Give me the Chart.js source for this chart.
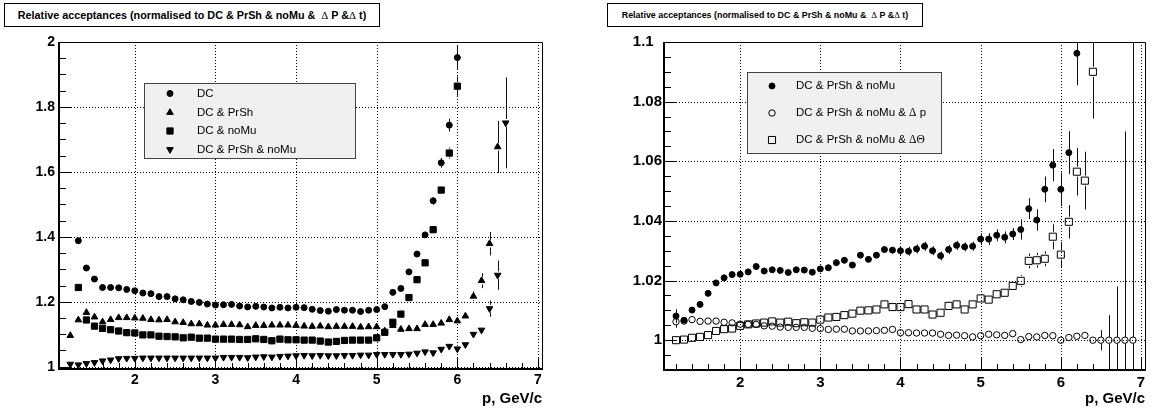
<!DOCTYPE html>
<html>
<head>
<meta charset="utf-8">
<script src="https://cdn.jsdelivr.net/npm/chart.js@4.4.0/dist/chart.umd.min.js"></script>
<style>
  html, body { margin: 0; padding: 0; background: #fff; }
  #wrap { position: relative; width: 1151px; height: 412px; overflow: hidden; }
  canvas { position: absolute; top: 0; }
  .title { position: absolute; top: 3px; height: 22px; border: 1px solid #000; background: #fff;
    font-family: "Liberation Sans", Arial, sans-serif; font-weight: bold; text-align: center; line-height: 22px;
    color: #000; white-space: nowrap; }
  .title .g { font-family: "Liberation Serif", serif; font-weight: normal; }
</style>
</head>
<body>
<div id="wrap">
  <canvas id="leftChart" width="575" height="412" style="left:0"></canvas>
  <canvas id="rightChart" width="576" height="412" style="left:575px"></canvas>
  <div class="title" style="left:4px;width:374px;font-size:10.8px">Relative acceptances (normalised to DC &amp; PrSh &amp; noMu &amp; &nbsp;<span class="g">Δ</span> P &amp;<span class="g">Δ</span> t)</div>
  <div class="title" style="left:607px;width:314px;font-size:8.9px">Relative acceptances (normalised to DC &amp; PrSh &amp; noMu &amp; &nbsp;<span class="g">Δ</span> P &amp;<span class="g">Δ</span> t)</div>
</div>
<script>
// momentum bin centres, GeV/c
const pBins = [1.2, 1.3, 1.4, 1.5, 1.6, 1.7, 1.8, 1.9,
  2.0, 2.1, 2.2, 2.3, 2.4, 2.5, 2.6, 2.7, 2.8, 2.9,
  3.0, 3.1, 3.2, 3.3, 3.4, 3.5, 3.6, 3.7, 3.8, 3.9,
  4.0, 4.1, 4.2, 4.3, 4.4, 4.5, 4.6, 4.7, 4.8, 4.9,
  5.0, 5.1, 5.2, 5.3, 5.4, 5.5, 5.6, 5.7, 5.8, 5.9,
  6.0, 6.1, 6.2, 6.3, 6.4, 6.5, 6.6, 6.7, 6.8, 6.9, 7.0];

const xTickValues = [2, 3, 4, 5, 6, 7];
const xTickLabels = ['2', '3', '4', '5', '6', '7'];
const leftYTickValues = [1, 1.2, 1.4, 1.6, 1.8, 2];
const leftYTickLabels = ['1', '1.2', '1.4', '1.6', '1.8', '2'];
const rightYTickValues = [1, 1.02, 1.04, 1.06, 1.08, 1.1];
const rightYTickLabels = ['1', '1.02', '1.04', '1.06', '1.08', '1.1\u2007'];

const leftLabels = ['DC', 'DC & PrSh', 'DC & noMu', 'DC & PrSh & noMu'];
const rightLabels = ['DC & PrSh & noMu', 'DC & PrSh & noMu & Δ p', 'DC & PrSh & noMu & ΔΘ'];

// ---- left panel ----
const dcValues = [null,
  1.388, 1.304, 1.270, 1.244, 1.244, 1.243, 1.238,
  1.234, 1.227, 1.225, 1.216, 1.216, 1.209, 1.206, 1.201, 1.198, 1.193,
  1.190, 1.191, 1.192, 1.187, 1.184, 1.186, 1.184, 1.181, 1.183, 1.181,
  1.183, 1.182, 1.177, 1.173, 1.171, 1.176, 1.174, 1.174, 1.170, 1.174,
  1.176, 1.185, 1.229, 1.241, 1.292, 1.347, 1.406, 1.511, 1.628, 1.744,
  1.952];
const dcErrors = [null,
  0.003, 0.003, 0.003, 0.003, 0.003, 0.003, 0.003,
  0.003, 0.003, 0.003, 0.003, 0.003, 0.003, 0.003, 0.003, 0.003, 0.003,
  0.003, 0.003, 0.003, 0.003, 0.003, 0.003, 0.003, 0.003, 0.003, 0.003,
  0.003, 0.003, 0.003, 0.003, 0.003, 0.003, 0.003, 0.003, 0.003, 0.003,
  0.003, 0.003, 0.004, 0.004, 0.005, 0.006, 0.008, 0.012, 0.015, 0.020,
  0.037];

const prShValues = [1.096, 1.144, 1.167, 1.153, 1.138, 1.145, 1.151, 1.151,
  1.150, 1.149, 1.145, 1.144, 1.145, 1.138, 1.136, 1.132, 1.132, 1.128,
  1.128, 1.130, 1.130, 1.129, 1.123, 1.127, 1.127, 1.128, 1.128, 1.128,
  1.127, 1.125, 1.124, 1.125, 1.123, 1.124, 1.124, 1.124, 1.122, 1.123,
  1.123, 1.110, 1.127, 1.115, 1.117, 1.117, 1.130, 1.130, 1.134, 1.145,
  1.141, 1.156, 1.217, 1.265, 1.379, 1.677];
const prShErrors = [0.003, 0.003, 0.003, 0.003, 0.003, 0.003, 0.003, 0.003,
  0.003, 0.003, 0.003, 0.003, 0.003, 0.003, 0.003, 0.003, 0.003, 0.003,
  0.003, 0.003, 0.003, 0.003, 0.003, 0.003, 0.003, 0.003, 0.003, 0.003,
  0.003, 0.003, 0.003, 0.003, 0.003, 0.003, 0.003, 0.003, 0.003, 0.003,
  0.003, 0.003, 0.003, 0.003, 0.004, 0.004, 0.004, 0.004, 0.004, 0.005,
  0.005, 0.007, 0.015, 0.023, 0.036, 0.080];

const noMuValues = [null,
  1.244, 1.144, 1.125, 1.118, 1.114, 1.110, 1.105,
  1.104, 1.098, 1.098, 1.094, 1.093, 1.092, 1.089, 1.091, 1.088, 1.088,
  1.085, 1.085, 1.085, 1.084, 1.084, 1.086, 1.084, 1.080, 1.085, 1.083,
  1.083, 1.082, 1.082, 1.079, 1.076, 1.078, 1.081, 1.082, 1.082, 1.082,
  1.089, 1.106, 1.137, 1.162, 1.213, 1.268, 1.320, 1.422, 1.544, 1.658,
  1.864];
const noMuErrors = [null,
  0.003, 0.003, 0.003, 0.003, 0.003, 0.003, 0.003,
  0.003, 0.003, 0.003, 0.003, 0.003, 0.003, 0.003, 0.003, 0.003, 0.003,
  0.003, 0.003, 0.003, 0.003, 0.003, 0.003, 0.003, 0.003, 0.003, 0.003,
  0.003, 0.003, 0.003, 0.003, 0.003, 0.003, 0.003, 0.003, 0.003, 0.003,
  0.003, 0.003, 0.004, 0.004, 0.005, 0.006, 0.007, 0.010, 0.013, 0.017,
  0.030];

const allCutsValues = [1.008, 1.006, 1.010, 1.013, 1.018, 1.021, 1.025, 1.026,
  1.026, 1.027, 1.027, 1.027, 1.027, 1.027, 1.027, 1.027, 1.027, 1.027,
  1.027, 1.029, 1.029, 1.029, 1.028, 1.030, 1.031, 1.030, 1.032, 1.033,
  1.034, 1.035, 1.034, 1.035, 1.034, 1.034, 1.035, 1.035, 1.036, 1.036,
  1.038, 1.038, 1.038, 1.038, 1.039, 1.042, 1.046, 1.043, 1.054, 1.063,
  1.055, 1.068, 1.100, 1.113, 1.179, 1.282, 1.751];
const allCutsErrors = [0.002, 0.002, 0.002, 0.002, 0.002, 0.002, 0.002, 0.002,
  0.002, 0.002, 0.002, 0.002, 0.002, 0.002, 0.002, 0.002, 0.002, 0.002,
  0.002, 0.002, 0.002, 0.002, 0.002, 0.002, 0.002, 0.002, 0.002, 0.002,
  0.002, 0.002, 0.002, 0.002, 0.002, 0.002, 0.002, 0.002, 0.002, 0.002,
  0.003, 0.003, 0.003, 0.003, 0.003, 0.003, 0.003, 0.003, 0.003, 0.003,
  0.004, 0.005, 0.008, 0.010, 0.025, 0.045, 0.140];

// ---- right panel ----
const pidValues = [1.0081, 1.0067, 1.0101, 1.0120, 1.0157, 1.0192, 1.0209, 1.0220,
  1.0221, 1.0229, 1.0247, 1.0232, 1.0236, 1.0234, 1.0227, 1.0236, 1.0235, 1.0228,
  1.0239, 1.0243, 1.0260, 1.0268, 1.0252, 1.0285, 1.0271, 1.0285, 1.0304, 1.0302,
  1.0300, 1.0298, 1.0306, 1.0315, 1.0300, 1.0283, 1.0304, 1.0318, 1.0313, 1.0315,
  1.0339, 1.0339, 1.0352, 1.0345, 1.0356, 1.0371, 1.0441, 1.0403, 1.0506, 1.0587,
  1.0506, 1.0629, 1.0962];
const pidErrors = [0.0023, 0.0010, 0.0010, 0.0010, 0.0010, 0.0010, 0.0010, 0.0010,
  0.0010, 0.0010, 0.0010, 0.0010, 0.0010, 0.0010, 0.0010, 0.0010, 0.0010, 0.0010,
  0.0010, 0.0010, 0.0010, 0.0010, 0.0010, 0.0010, 0.0010, 0.0010, 0.0010, 0.0010,
  0.0015, 0.0015, 0.0015, 0.0015, 0.0015, 0.0015, 0.0015, 0.0015, 0.0015, 0.0015,
  0.0020, 0.0020, 0.0020, 0.0020, 0.0020, 0.0034, 0.0035, 0.0036, 0.0043, 0.0054,
  0.0056, 0.0072, 0.0107];

const dpValues = [1.0062, 1.0064, 1.0069, 1.0063, 1.0064, 1.0064, 1.0060, 1.0058,
  1.0054, 1.0053, 1.0053, 1.0048, 1.0047, 1.0044, 1.0043, 1.0043, 1.0043, 1.0040,
  1.0039, 1.0036, 1.0037, 1.0037, 1.0031, 1.0031, 1.0031, 1.0032, 1.0033, 1.0036,
  1.0025, 1.0025, 1.0024, 1.0024, 1.0024, 1.0020, 1.0016, 1.0017, 1.0015, 1.0011,
  1.0015, 1.0020, 1.0018, 1.0016, 1.0022, 1.0002, 1.0012, 1.0011, 1.0016, 1.0015,
  1.0000, 1.0009, 1.0013, 1.0016, 1.0000, 1.0000, 1.0000, 1.0000, 1.0000, 1.0000];
const dpErrors = [0.0020, 0.0008, 0.0008, 0.0008, 0.0008, 0.0008, 0.0008, 0.0008,
  0.0008, 0.0008, 0.0008, 0.0008, 0.0008, 0.0008, 0.0008, 0.0008, 0.0008, 0.0008,
  0.0008, 0.0008, 0.0008, 0.0008, 0.0008, 0.0008, 0.0008, 0.0008, 0.0008, 0.0008,
  0.0008, 0.0008, 0.0008, 0.0008, 0.0008, 0.0008, 0.0008, 0.0008, 0.0008, 0.0008,
  0.0008, 0.0008, 0.0008, 0.0008, 0.0008, 0.0008, 0.0008, 0.0008, 0.0008, 0.0008,
  0.0010, 0.0010, 0.0010, 0.0010, 0.0010, 0.0034, 0.0084, 0.0180, 0.0700, 0.2000];

const dthValues = [1.0000, 1.0002, 1.0008, 1.0011, 1.0017, 1.0031, 1.0037, 1.0039,
  1.0048, 1.0053, 1.0056, 1.0059, 1.0063, 1.0059, 1.0062, 1.0057, 1.0060, 1.0059,
  1.0069, 1.0076, 1.0078, 1.0084, 1.0089, 1.0099, 1.0100, 1.0103, 1.0120, 1.0111,
  1.0111, 1.0121, 1.0103, 1.0103, 1.0086, 1.0092, 1.0115, 1.0120, 1.0103, 1.0120,
  1.0140, 1.0136, 1.0154, 1.0159, 1.0182, 1.0199, 1.0266, 1.0268, 1.0273, 1.0347,
  1.0287, 1.0397, 1.0565, 1.0535, 1.0900];
const dthErrors = [0.0010, 0.0010, 0.0010, 0.0010, 0.0010, 0.0010, 0.0010, 0.0010,
  0.0010, 0.0010, 0.0010, 0.0010, 0.0010, 0.0010, 0.0010, 0.0010, 0.0010, 0.0010,
  0.0010, 0.0010, 0.0010, 0.0010, 0.0010, 0.0010, 0.0010, 0.0010, 0.0010, 0.0010,
  0.0010, 0.0010, 0.0010, 0.0010, 0.0010, 0.0010, 0.0010, 0.0010, 0.0010, 0.0010,
  0.0013, 0.0013, 0.0013, 0.0013, 0.0015, 0.0020, 0.0025, 0.0025, 0.0025, 0.0042,
  0.0042, 0.0056, 0.0080, 0.0097, 0.0157];

const FONT = '"Liberation Sans", Arial, sans-serif';

function series(label, values, errors, style) {
  const data = [];
  values.forEach((v, i) => {
    if (v !== null) data.push({ x: pBins[i], y: v, e: errors[i] });
  });
  return Object.assign({
    label: label,
    data: data,
    showLine: false,
    pointBackgroundColor: '#000',
    pointBorderColor: '#000',
    pointBorderWidth: 1,
    pointRotation: 0
  }, style);
}

function drawMarker(ctx, style, radius, rotation, x, y) {
  ctx.beginPath();
  if (style === 'circle') {
    ctx.arc(x, y, radius, 0, Math.PI * 2);
  } else if (style === 'rect') {
    const s = Math.SQRT1_2 * radius;
    ctx.rect(x - s, y - s, 2 * s, 2 * s);
  } else if (style === 'triangle') {
    let rad = rotation * Math.PI / 180;
    ctx.moveTo(x + Math.sin(rad) * radius, y - Math.cos(rad) * radius);
    rad += 2 * Math.PI / 3;
    ctx.lineTo(x + Math.sin(rad) * radius, y - Math.cos(rad) * radius);
    rad += 2 * Math.PI / 3;
    ctx.lineTo(x + Math.sin(rad) * radius, y - Math.cos(rad) * radius);
    ctx.closePath();
  }
  ctx.fill();
  ctx.stroke();
}

function drawRich(ctx, text, x, y, size) {
  const runs = text.match(/[ΔΘ]+|[^ΔΘ]+/g);
  ctx.textBaseline = 'middle';
  ctx.textAlign = 'left';
  ctx.fillStyle = '#000';
  runs.forEach(r => {
    ctx.font = /[ΔΘ]/.test(r) ? size + 'px "Liberation Serif", serif' : size + 'px ' + FONT;
    ctx.fillText(r, x, y);
    x += ctx.measureText(r).width;
  });
}

function eachTick(min, max, step, fn) {
  for (let k = Math.ceil(min / step - 1e-6); k * step <= max + 1e-9; k++) fn(k * step);
}

const rootFrame = {
  id: 'rootFrame',
  beforeDatasetsDraw(chart, args, opts) {
    const { ctx, chartArea: a, scales: { x, y } } = chart;
    ctx.save();
    // dotted grid at major ticks
    ctx.strokeStyle = '#000';
    ctx.lineWidth = 1;
    ctx.setLineDash([1, 2]);
    ctx.beginPath();
    xTickValues.forEach(v => {
      const px = Math.round(x.getPixelForValue(v)) + 0.5;
      ctx.moveTo(px, a.top); ctx.lineTo(px, a.bottom);
    });
    opts.yMajor.forEach(v => {
      const py = Math.round(y.getPixelForValue(v)) + 0.5;
      ctx.moveTo(a.left, py); ctx.lineTo(a.right, py);
    });
    ctx.stroke();
    ctx.setLineDash([]);

    // vertical error bars
    ctx.beginPath();
    ctx.rect(a.left, a.top, a.right - a.left, a.bottom - a.top);
    ctx.clip();
    ctx.strokeStyle = '#111';
    ctx.beginPath();
    chart.data.datasets.forEach(ds => {
      const gap = ds.pointRadius;
      ds.data.forEach(pt => {
        const px = Math.round(x.getPixelForValue(pt.x)) + 0.5;
        const py = y.getPixelForValue(pt.y);
        const top = y.getPixelForValue(pt.y + pt.e);
        const bot = y.getPixelForValue(pt.y - pt.e);
        if (py - top > gap) { ctx.moveTo(px, top); ctx.lineTo(px, py - gap); }
        if (bot - py > gap) { ctx.moveTo(px, py + gap); ctx.lineTo(px, bot); }
      });
    });
    ctx.stroke();
    ctx.restore();
  },
  afterDatasetsDraw(chart, args, opts) {
    const { ctx, chartArea: a, scales: { x, y } } = chart;
    ctx.save();
    ctx.strokeStyle = '#000';
    ctx.lineWidth = 1;
    // tick marks inside the frame
    ctx.beginPath();
    eachTick(x.min, x.max, 0.2, v => {
      const major = xTickValues.some(t => Math.abs(t - v) < 1e-6);
      const px = Math.round(x.getPixelForValue(v)) + 0.5;
      ctx.moveTo(px, a.bottom); ctx.lineTo(px, a.bottom - (major ? 12 : 6));
    });
    eachTick(y.min, y.max, opts.yMinor, v => {
      const major = opts.yMajor.some(t => Math.abs(t - v) < 1e-6);
      const py = Math.round(y.getPixelForValue(v)) + 0.5;
      ctx.moveTo(a.left, py); ctx.lineTo(a.left + (major ? 12 : 7), py);
    });
    ctx.stroke();
    // frame
    ctx.beginPath();
    ctx.moveTo(a.left, a.top + 0.5); ctx.lineTo(a.right + 0.5, a.top + 0.5);
    ctx.lineTo(a.right + 0.5, a.bottom);
    ctx.stroke();
    ctx.lineWidth = 2;
    ctx.beginPath();
    ctx.moveTo(a.left, a.top); ctx.lineTo(a.left, a.bottom);
    ctx.lineTo(a.right + 1, a.bottom);
    ctx.stroke();

    // legend box
    const leg = opts.legend;
    const [x0, y0, x1, y1] = leg.box;
    ctx.lineWidth = 1;
    ctx.fillStyle = '#f0f0f0';
    ctx.fillRect(x0, y0, x1 - x0, y1 - y0);
    ctx.strokeStyle = '#444';
    ctx.strokeRect(x0 + 0.5, y0 + 0.5, x1 - x0, y1 - y0);
    chart.data.datasets.forEach((ds, i) => {
      const yy = leg.rows[i];
      ctx.fillStyle = ds.pointBackgroundColor;
      ctx.strokeStyle = ds.pointBorderColor;
      ctx.lineWidth = ds.pointBorderWidth;
      drawMarker(ctx, ds.pointStyle, ds.pointRadius, ds.pointRotation, leg.markerX, yy);
      drawRich(ctx, ds.label, leg.textX, yy, leg.fontSize);
    });
    ctx.restore();
  }
};

function labelFor(values, labels) {
  return v => {
    const i = values.findIndex(t => Math.abs(t - v) < 1e-6);
    return i < 0 ? '' : labels[i];
  };
}

function axes(o) {
  return {
    x: {
      type: 'linear', min: o.xMin, max: 7.05,
      afterFit: s => { s.height = o.xHeight; },
      afterBuildTicks: s => { s.ticks = xTickValues.map(v => ({ value: v })); },
      ticks: { callback: labelFor(xTickValues, xTickLabels), color: '#000', padding: o.xPad,
        maxRotation: 0, autoSkip: false, font: { family: FONT, size: o.tickSize, weight: 'bold' } },
      grid: { display: false, drawTicks: false },
      border: { display: false },
      title: { display: true, text: 'p, GeV/c', align: 'end', color: '#000',
        font: { family: FONT, size: 15, weight: 'bold' }, padding: { top: 0, bottom: 4 } }
    },
    y: {
      type: 'linear', min: o.yMin, max: o.yMax,
      afterFit: s => { s.width = o.yWidth; },
      afterBuildTicks: s => { s.ticks = o.yValues.map(v => ({ value: v })); },
      ticks: { callback: labelFor(o.yValues, o.yLabels), color: '#000', padding: o.yPad,
        autoSkip: false, font: { family: FONT, size: o.tickSize, weight: 'bold' } },
      grid: { display: false, drawTicks: false },
      border: { display: false }
    }
  };
}

new Chart(document.getElementById('leftChart'), {
  type: 'scatter',
  data: {
    datasets: [
      series(leftLabels[0], dcValues, dcErrors, { pointStyle: 'circle', pointRadius: 3 }),
      series(leftLabels[1], prShValues, prShErrors, { pointStyle: 'triangle', pointRadius: 3.8 }),
      series(leftLabels[2], noMuValues, noMuErrors, { pointStyle: 'rect', pointRadius: 4.4 }),
      series(leftLabels[3], allCutsValues, allCutsErrors, { pointStyle: 'triangle', pointRadius: 3.8, pointRotation: 180 })
    ]
  },
  options: {
    responsive: false, animation: false, events: [], devicePixelRatio: 1,
    layout: { padding: { left: 0, right: 33, top: 42, bottom: 0 } },
    plugins: {
      legend: { display: false }, tooltip: { enabled: false },
      rootFrame: {
        yMajor: leftYTickValues, yMinor: 0.05,
        legend: { box: [144, 83, 355, 158], markerX: 170, textX: 197, rows: [93.5, 112.5, 131, 149.5], fontSize: 11.5 }
      }
    },
    scales: axes({ xMin: 1.06, yMin: 0.993, yMax: 2.0, xHeight: 43, yWidth: 59, xPad: 3, yPad: 4,
      tickSize: 14, yValues: leftYTickValues, yLabels: leftYTickLabels })
  },
  plugins: [rootFrame]
});

new Chart(document.getElementById('rightChart'), {
  type: 'scatter',
  data: {
    datasets: [
      series(rightLabels[0], pidValues, pidErrors, { pointStyle: 'circle', pointRadius: 3 }),
      series(rightLabels[1], dpValues, dpErrors, { pointStyle: 'circle', pointRadius: 3.2, pointBackgroundColor: 'rgba(0,0,0,0)' }),
      series(rightLabels[2], dthValues, dthErrors, { pointStyle: 'rect', pointRadius: 5, pointBackgroundColor: 'rgba(0,0,0,0)' })
    ]
  },
  options: {
    responsive: false, animation: false, events: [], devicePixelRatio: 1,
    layout: { padding: { left: 0, right: 4, top: 42, bottom: 0 } },
    plugins: {
      legend: { display: false }, tooltip: { enabled: false },
      rootFrame: {
        yMajor: rightYTickValues, yMinor: 0.005,
        legend: { box: [172, 72, 366, 153], markerX: 197, textX: 221, rows: [86, 113, 140], fontSize: 11.5 }
      }
    },
    scales: axes({ xMin: 1.05, yMin: 0.99, yMax: 1.1, xHeight: 42, yWidth: 89, xPad: 4, yPad: 2,
      tickSize: 15, yValues: rightYTickValues, yLabels: rightYTickLabels })
  },
  plugins: [rootFrame]
});
</script>
</body>
</html>
